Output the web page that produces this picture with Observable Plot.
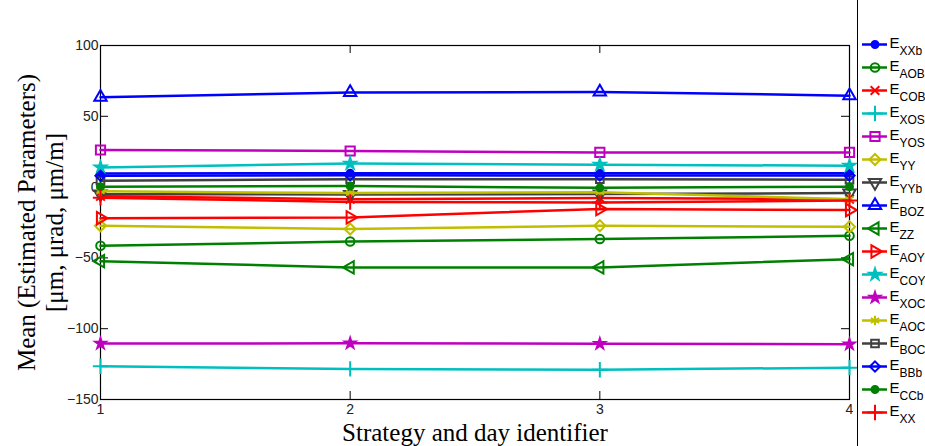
<!DOCTYPE html>
<html>
<head>
<meta charset="utf-8">
<script src="https://cdn.jsdelivr.net/npm/d3@7"></script>
<script src="https://cdn.jsdelivr.net/npm/@observablehq/plot@0.6"></script>
<style>
  html, body { margin: 0; padding: 0; background: #fff; }
  #wrap { position: relative; width: 925px; height: 446px; overflow: hidden; }
  #legend { position: absolute; left: 857px; top: 0; width: 68px; height: 446px; border-left: 1.3px solid #000; background: #fff; }
</style>
</head>
<body>
<div id="wrap"><div id="chart"></div><div id="legend"></div></div>
<script>
// ---- data ----
const xIds = [1, 2, 3, 4];
const yTicks = [100, 50, 0, -50, -100, -150];
const xTicks = [1, 2, 3, 4];
const xLabel = "Strategy and day identifier";
const yLabel1 = "Mean (Estimated Parameters)";
const yLabel2 = "[\u03bcm, \u03bcrad, \u03bcm/m]";

const seriesNames = ["XXb", "AOB", "COB", "XOS", "YOS", "YY", "YYb", "BOZ", "ZZ", "AOY", "COY", "XOC", "AOC", "BOC", "BBb", "CCb", "XX"];

const E_XXb = [9.6, 9.8, 9.7, 9.7];
const E_AOB = [-41.5, -38.4, -36.7, -34.4];
const E_COB = [-6.5, -8.5, -7.7, -8.5];
const E_XOS = [-126.5, -128.4, -129.0, -127.5];
const E_YOS = [26.2, 25.5, 24.5, 24.5];
const E_YY  = [-27.3, -29.6, -27.3, -28.0];
const E_YYb = [-5.0, -5.2, -4.9, -4.2];
const E_BOZ = [63.5, 66.8, 67.2, 64.6];
const E_ZZ  = [-52.3, -56.7, -56.7, -50.9];
const E_AOY = [-22.0, -21.4, -15.5, -16.2];
const E_COY = [13.9, 16.6, 15.8, 15.1];
const E_XOC = [-110.5, -110.3, -110.6, -111.0];
const E_AOC = [-3.0, -4.2, -3.7, -8.5];
const E_BOC = [4.5, 5.5, 5.6, 5.2];
const E_BBb = [8.0, 8.3, 8.2, 8.2];
const E_CCb = [0.3, 0.8, -0.5, 0.3];
const E_XX  = [-7.5, -10.5, -10.8, -9.5];

const seriesValues = {XXb: E_XXb, AOB: E_AOB, COB: E_COB, XOS: E_XOS, YOS: E_YOS, YY: E_YY, YYb: E_YYb, BOZ: E_BOZ, ZZ: E_ZZ, AOY: E_AOY, COY: E_COY, XOC: E_XOC, AOC: E_AOC, BOC: E_BOC, BBb: E_BBb, CCb: E_CCb, XX: E_XX};

// ---- styles ----
const B = "#0000ff", G = "#008000", R = "#ff0000", C = "#00bfbf", M = "#bf00bf", Y = "#bfbf00", K = "#404040";
const styles = {
  XXb: {color: B, symbol: "circle", filled: true, r: 3.5},
  AOB: {color: G, symbol: "circle", r: 4.3},
  COB: {color: R, symbol: "times", r: 4},
  XOS: {color: C, symbol: "plus", r: 5},
  YOS: {color: M, symbol: "square", r: 5.2},
  YY:  {color: Y, symbol: "diamond2", r: 5},
  YYb: {color: K, symbol: "triangle", r: 4.6, rotate: 180},
  BOZ: {color: B, symbol: "triangle", r: 4.6},
  ZZ:  {color: G, symbol: "triangle", r: 4.6, rotate: -90},
  AOY: {color: R, symbol: "triangle", r: 4.6, rotate: 90},
  COY: {color: C, symbol: "star", filled: true, r: 3.6},
  XOC: {color: M, symbol: "star", filled: true, r: 3.3},
  AOC: {color: Y, symbol: "asterisk", r: 4.5},
  BOC: {color: K, symbol: "square", r: 4.3},
  BBb: {color: B, symbol: "diamond2", r: 4.6},
  CCb: {color: G, symbol: "circle", filled: true, r: 3.5},
  XX:  {color: R, symbol: "plus", r: 5}
};

const serif = "'Liberation Serif', 'Times New Roman', serif";
const sans = "'Liberation Sans', Arial, sans-serif";

// ---- main chart ----
const W = 925, H = 446, mL = 100, mR = 76, mT = 45, mB = 47;
const fw = W - mL - mR, fh = H - mT - mB, tickLen = 8;

const marks = [
  Plot.frame({stroke: "#000", strokeWidth: 1.2}),
  Plot.tickY(yTicks, {y: d => d, insetRight: fw - tickLen, stroke: "#000"}),
  Plot.tickY(yTicks, {y: d => d, insetLeft: fw - tickLen, stroke: "#000"}),
  Plot.tickX(xTicks, {x: d => d, insetTop: fh - tickLen, stroke: "#000"}),
  Plot.tickX(xTicks, {x: d => d, insetBottom: fh - tickLen, stroke: "#000"}),
  Plot.axisY({ticks: yTicks, tickSize: 0, tickPadding: 2, label: null, fontSize: 14, fill: "#222"}),
  Plot.axisX({ticks: xTicks, tickFormat: d => String(d), tickSize: 0, tickPadding: 5, label: null, fontSize: 14, fill: "#222"}),
  Plot.text([xLabel], {frameAnchor: "bottom", textAnchor: "middle", dy: 33, fontSize: 25, fontFamily: serif, fill: "#000", lineAnchor: "middle"}),
  Plot.text([yLabel1], {frameAnchor: "left", textAnchor: "middle", dx: -74, rotate: -90, fontSize: 25, fontFamily: serif, fill: "#000", lineAnchor: "middle"}),
  Plot.text([yLabel2], {frameAnchor: "left", textAnchor: "middle", dx: -46, rotate: -90, fontSize: 25, fontFamily: serif, fill: "#000", lineAnchor: "middle"})
];

for (const name of seriesNames) {
  const s = styles[name];
  const rows = xIds.map((x, i) => ({x, y: seriesValues[name][i]}));
  marks.push(Plot.line(rows, {x: "x", y: "y", stroke: s.color, strokeWidth: 2.5}));
  marks.push(Plot.dot(rows, {x: "x", y: "y", symbol: s.symbol, r: s.r, stroke: s.color, fill: s.filled ? s.color : "none", strokeWidth: 2, rotate: s.rotate || 0}));
}

const chart = Plot.plot({
  width: W, height: H, marginLeft: mL, marginRight: mR, marginTop: mT, marginBottom: mB,
  x: {domain: [1, 4]},
  y: {domain: [-150, 100]},
  style: {fontFamily: sans, fontSize: "14px", background: "#fff", overflow: "visible"},
  marks
});
document.getElementById("chart").appendChild(chart);

// ---- legend ----
const lmarks = [];
for (const name of seriesNames) {
  const s = styles[name];
  lmarks.push(Plot.tickY([name], {y: d => d, stroke: s.color, strokeWidth: 2.5}));
  lmarks.push(Plot.dot([name], {y: d => d, symbol: s.symbol, r: s.r, stroke: s.color, fill: s.filled ? s.color : "none", strokeWidth: 2, rotate: s.rotate || 0}));
  lmarks.push(Plot.text([name], {y: d => d, text: () => "E", frameAnchor: "right", textAnchor: "start", dx: 2, dy: -1, fontSize: 15, fill: "#000"}));
  lmarks.push(Plot.text([name], {y: d => d, text: d => d, frameAnchor: "right", textAnchor: "start", dx: 12, dy: 7, fontSize: 12, fill: "#000"}));
}
const legend = Plot.plot({
  width: 68, height: 446, marginLeft: 4, marginRight: 39, marginTop: 0, marginBottom: 0,
  y: {type: "point", domain: seriesNames, range: [26.7, 429.9], axis: null},
  style: {fontFamily: sans, background: "transparent", overflow: "visible"},
  marks: lmarks
});
document.getElementById("legend").appendChild(legend);
</script>
</body>
</html>
